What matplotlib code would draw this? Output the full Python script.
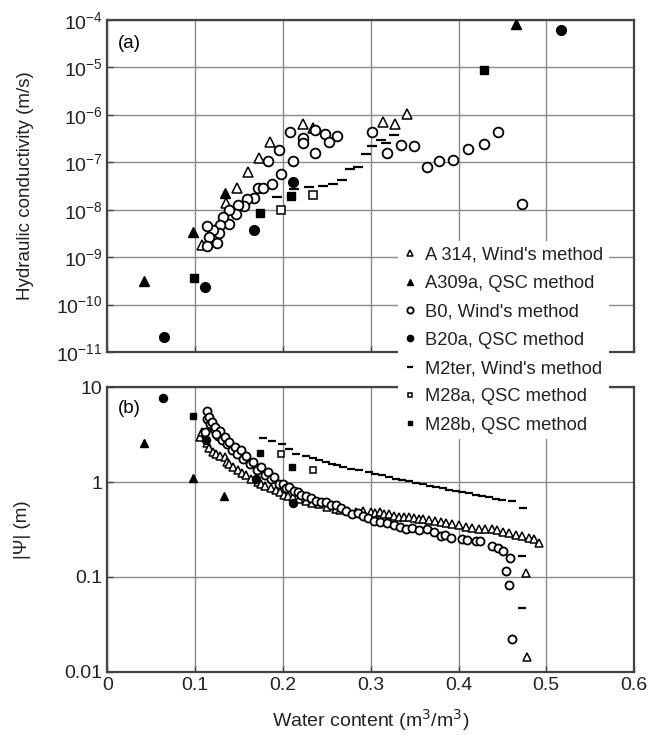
import matplotlib
matplotlib.use("Agg")
import matplotlib.pyplot as plt
import matplotlib.ticker as mticker

plt.rcParams['font.family'] = ['Liberation Sans', 'DejaVu Sans']

# ---- panel (a): hydraulic conductivity (m/s) vs water content ----
a314_th = [0.108, 0.118, 0.126, 0.135, 0.1475, 0.160, 0.1726, 0.1855, 0.2225, 0.234, 0.314, 0.328, 0.341]
a314_k = [1.8e-9, 2.5e-9, 4e-9, 1.4e-8, 2.8e-8, 6.3e-8, 1.2e-7, 2.7e-7, 6.3e-7, 5.3e-7, 7e-7, 6.4e-7, 1.05e-6]

a309_th = [0.042, 0.097, 0.134, 0.465]
a309_k = [3.2e-10, 3.4e-9, 2.3e-8, 8e-5]

b0_th = [0.2085, 0.2225, 0.223, 0.236, 0.248, 0.2616, 0.252, 0.237, 0.211, 0.195,
         0.1835, 0.198, 0.1877, 0.172, 0.177, 0.167, 0.159, 0.156, 0.149, 0.146,
         0.138, 0.139, 0.132, 0.128, 0.127, 0.120, 0.1134, 0.116, 0.125, 0.113,
         0.301, 0.318, 0.334, 0.349, 0.364, 0.378, 0.394, 0.411, 0.429, 0.4445, 0.4725]
b0_k = [4.4e-7, 3.2e-7, 2.5e-7, 4.8e-7, 3.9e-7, 3.5e-7, 2.7e-7, 1.6e-7, 1.07e-7, 1.8e-7,
        1.08e-7, 5.6e-8, 3.4e-8, 2.9e-8, 2.8e-8, 1.8e-8, 1.66e-8, 1.2e-8, 1.26e-8, 8.3e-9,
        9.8e-9, 5.0e-9, 6.9e-9, 4.8e-9, 3.2e-9, 3.7e-9, 4.5e-9, 2.7e-9, 1.95e-9, 1.7e-9,
        4.3e-7, 1.6e-7, 2.3e-7, 2.2e-7, 8.1e-8, 1.07e-7, 1.1e-7, 1.9e-7, 2.4e-7, 4.3e-7, 1.3e-8]

b20_th = [0.064, 0.111, 0.167, 0.211, 0.517]
b20_k = [2.1e-11, 2.3e-10, 3.8e-9, 3.9e-8, 6e-5]

m2_th = [0.193, 0.213, 0.230, 0.246, 0.257, 0.267, 0.276, 0.286, 0.295, 0.301, 0.312, 0.317, 0.326]
m2_k = [1.85e-8, 2.7e-8, 3.0e-8, 3.2e-8, 3.4e-8, 4.2e-8, 7.1e-8, 8.1e-8, 1.48e-7, 2.2e-7, 2.9e-7, 2.6e-7, 3.7e-7]

m28a_th = [0.198, 0.234]
m28a_k = [9.8e-9, 2.0e-8]

m28b_th = [0.099, 0.174, 0.209, 0.429]
m28b_k = [3.7e-10, 8.7e-9, 1.95e-8, 8.9e-6]

# ---- panel (b): |psi| (m) vs water content ----
a314_th_b = [0.105, 0.108, 0.113, 0.116, 0.120, 0.124, 0.128, 0.1335, 0.136, 0.139,
             0.143, 0.1486, 0.153, 0.158, 0.164, 0.171, 0.175, 0.180, 0.186, 0.192,
             0.197, 0.2017, 0.206, 0.211, 0.218, 0.226, 0.233, 0.2415, 0.250, 0.260,
             0.265, 0.274, 0.283, 0.291, 0.300, 0.305, 0.310, 0.315, 0.321, 0.326,
             0.332, 0.338, 0.344, 0.349, 0.355, 0.360, 0.366, 0.373, 0.380, 0.386,
             0.393, 0.400, 0.408, 0.415, 0.423, 0.430, 0.438, 0.444, 0.4506, 0.458,
             0.4657, 0.472, 0.480, 0.486, 0.4915, 0.4764, 0.478]
a314_psi = [2.99, 3.4, 2.57, 2.3, 2.07, 2.0, 1.9, 1.84, 1.65, 1.56,
            1.45, 1.33, 1.25, 1.18, 1.08, 1.0, 0.96, 0.92, 0.86, 0.82,
            0.78, 0.74, 0.71, 0.69, 0.66, 0.64, 0.61, 0.59, 0.55, 0.52,
            0.51, 0.50, 0.49, 0.50, 0.48, 0.47, 0.48, 0.465, 0.456, 0.44,
            0.43, 0.43, 0.43, 0.42, 0.41, 0.405, 0.40, 0.39, 0.38, 0.37,
            0.364, 0.35, 0.34, 0.33, 0.32, 0.32, 0.32, 0.31, 0.30, 0.29,
            0.28, 0.27, 0.256, 0.25, 0.23, 0.11, 0.0142]

a309_th_b = [0.042, 0.097, 0.133]
a309_psi = [2.6, 1.1, 0.71]

b0_th_b = [0.113, 0.114, 0.116, 0.117, 0.119, 0.121, 0.122, 0.126, 0.128, 0.131,
           0.1108, 0.124, 0.1335, 0.136, 0.139, 0.142, 0.145, 0.148, 0.1525, 0.155,
           0.158, 0.162, 0.1657, 0.170, 0.175, 0.179, 0.1827, 0.186, 0.190, 0.195,
           0.1998, 0.203, 0.2074, 0.212, 0.2168, 0.221, 0.2264, 0.232, 0.2377, 0.243,
           0.249, 0.255, 0.2605, 0.266, 0.272, 0.279, 0.285, 0.2907, 0.297, 0.304,
           0.310, 0.318, 0.327, 0.333, 0.340, 0.347, 0.355, 0.3645, 0.372, 0.380,
           0.385, 0.391, 0.404, 0.410, 0.4195, 0.425, 0.4377, 0.445, 0.4506, 0.459,
           0.4536, 0.457, 0.461]
b0_psi = [5.6, 4.6, 4.9, 4.1, 4.3, 3.6, 3.8, 3.1, 3.5, 2.8,
          3.38, 3.25, 2.99, 2.5, 2.64, 2.2, 2.34, 2.0, 2.16, 1.75,
          1.91, 1.55, 1.63, 1.35, 1.44, 1.2, 1.28, 1.07, 1.13, 0.95,
          0.96, 0.86, 0.89, 0.80, 0.78, 0.74, 0.72, 0.68, 0.64, 0.62,
          0.62, 0.58, 0.57, 0.53, 0.50, 0.46, 0.47, 0.44, 0.42, 0.39,
          0.38, 0.37, 0.35, 0.34, 0.32, 0.33, 0.31, 0.32, 0.30, 0.27,
          0.28, 0.26, 0.25, 0.245, 0.24, 0.24, 0.21, 0.20, 0.19, 0.16,
          0.117, 0.083, 0.022]

b20_th_b = [0.063, 0.112, 0.169, 0.211]
b20_psi = [7.8, 2.8, 1.09, 0.6]

m2_th_b = [0.177, 0.188, 0.1994, 0.207, 0.2153, 0.2266, 0.234, 0.2415, 0.2485, 0.256,
           0.262, 0.268, 0.277, 0.287, 0.298, 0.305, 0.313, 0.321, 0.329, 0.336,
           0.344, 0.352, 0.359, 0.367, 0.374, 0.382, 0.389, 0.397, 0.404, 0.412,
           0.4195, 0.427, 0.435, 0.443, 0.450, 0.461, 0.474, 0.4725, 0.4725]
m2_psi = [2.94, 2.72, 2.50, 2.25, 2.0, 1.88, 1.79, 1.70, 1.63, 1.56,
          1.50, 1.44, 1.38, 1.33, 1.28, 1.23, 1.18, 1.13, 1.09, 1.06,
          1.03, 0.99, 0.95, 0.92, 0.89, 0.86, 0.83, 0.80, 0.78, 0.76,
          0.74, 0.71, 0.69, 0.67, 0.65, 0.63, 0.54, 0.168, 0.047]

m28a_th_b = [0.198, 0.234]
m28a_psi = [2.0, 1.33]

m28b_th_b = [0.098, 0.174, 0.2105]
m28b_psi = [5.0, 2.04, 1.44]

labels = ["A 314, Wind's method", "A309a, QSC method", "B0, Wind's method",
          "B20a, QSC method", "M2ter, Wind's method", "M28a, QSC method",
          "M28b, QSC method"]

fig = plt.figure(figsize=(6.51, 7.35), dpi=100)
ax1 = fig.add_axes([0.165, 0.521, 0.809, 0.452])
ax2 = fig.add_axes([0.165, 0.086, 0.809, 0.387])


def style(ms):
    return [
        dict(marker='^', mfc='white', mec='black', ms=ms, mew=1.1, ls='none'),
        dict(marker='^', mfc='black', mec='black', ms=ms, mew=1.0, ls='none'),
        dict(marker='o', mfc='white', mec='black', ms=ms, mew=1.3, ls='none'),
        dict(marker='o', mfc='black', mec='black', ms=ms, mew=1.0, ls='none'),
        dict(marker='_', color='black', ms=ms, mew=1.6, ls='none'),
        dict(marker='s', mfc='white', mec='black', ms=ms - 1, mew=1.1, ls='none'),
        dict(marker='s', mfc='black', mec='black', ms=ms - 1, mew=1.0, ls='none'),
    ]


top = [(a314_th, a314_k), (a309_th, a309_k), (b0_th, b0_k), (b20_th, b20_k),
       (m2_th, m2_k), (m28a_th, m28a_k), (m28b_th, m28b_k)]
bot = [(a314_th_b, a314_psi), (a309_th_b, a309_psi), (b0_th_b, b0_psi),
       (b20_th_b, b20_psi), (m2_th_b, m2_psi), (m28a_th_b, m28a_psi),
       (m28b_th_b, m28b_psi)]

for (x, y), st in zip(top, style(7)):
    ax1.plot(x, y, zorder=3, **st)
for (x, y), st in zip(bot, style(5.8)):
    ax2.plot(x, y, zorder=3, **st)
handles = []
for st, lab in zip(style(4.5), labels):
    h, = ax1.plot([], [], label=lab, **st)
    handles.append(h)

for ax in (ax1, ax2):
    ax.set_xlim(0, 0.6)
    ax.set_yscale('log')
    ax.xaxis.set_major_locator(mticker.MultipleLocator(0.1))
    ax.yaxis.set_minor_locator(mticker.NullLocator())
    ax.grid(True, color='#8a8a8a', lw=1.0)
    ax.set_axisbelow(True)
    ax.tick_params(direction='in', length=4, width=1, color='#444444',
                   labelsize=14, labelcolor='#222222')
    for s in ax.spines.values():
        s.set_color('#444444')
        s.set_linewidth(1.6)

ax1.set_ylim(1e-11, 1e-4)
ax1.yaxis.set_major_locator(mticker.LogLocator(base=10, numticks=20))
ax1.tick_params(axis='x', labelbottom=False)
ax1.set_ylabel('Hydraulic conductivity (m/s)', fontsize=13.5, color='#222222', labelpad=16)
ax1.text(0.02, 0.955, '(a)', transform=ax1.transAxes, fontsize=13.5, va='top')

ax2.set_ylim(0.01, 10)
ax2.yaxis.set_major_locator(mticker.FixedLocator([0.01, 0.1, 1, 10]))
ax2.yaxis.set_major_formatter(mticker.FuncFormatter(lambda v, p: '%g' % v))
ax2.xaxis.set_major_formatter(mticker.FuncFormatter(lambda v, p: '%g' % round(v, 1)))
ax2.set_ylabel('|Ψ| (m)', fontsize=13.5, color='#222222', labelpad=24)
ax2.set_xlabel('Water content (m$^3$/m$^3$)', fontsize=14, color='#222222', labelpad=10)
ax2.text(0.02, 0.955, '(b)', transform=ax2.transAxes, fontsize=13.5, va='top')

fig.align_ylabels([ax1, ax2])

leg = fig.legend(handles=handles, loc='upper left', bbox_to_anchor=(0.612, 0.672),
                 frameon=True, fontsize=13.2, handlelength=0.7, handletextpad=0.45,
                 labelspacing=0.62, borderpad=0.3, borderaxespad=0)
leg.get_frame().set_facecolor('white')
leg.get_frame().set_edgecolor('none')
leg.get_frame().set_alpha(1)
for t in leg.get_texts():
    t.set_color('#222222')

fig.savefig('out.png', dpi=100)
